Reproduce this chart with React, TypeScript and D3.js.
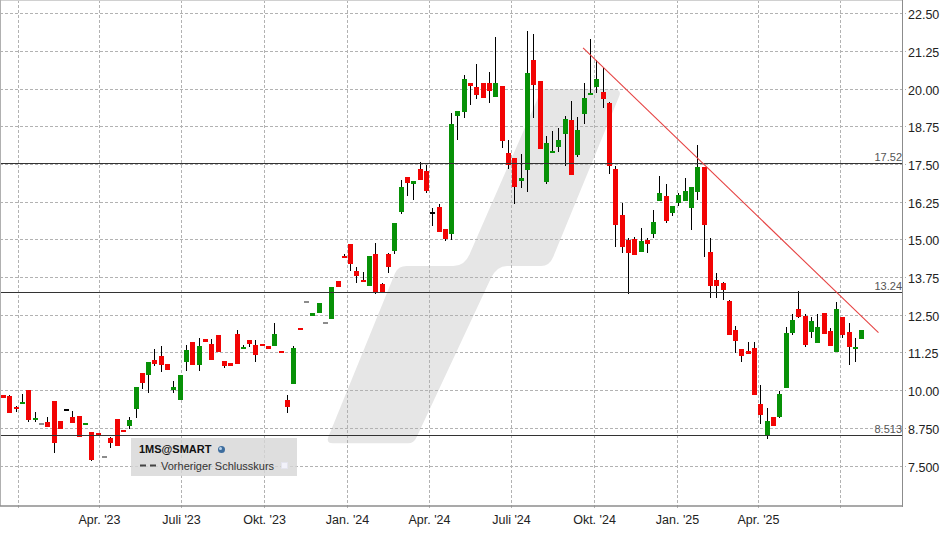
import React from "react";
import * as d3 from "d3";

const firstWeek = "2022-12-15";
const opens = [9.85,9.82,9.46,9.56,10.02,9.03,8.93,8.95,9.65,8.99,9.40,9.12,9.15,8.86,8.62,8.59,7.83,8.42,9.06,8.69,8.82,9.39,10.58,10.51,11.01,11.14,10.88,10.02,9.69,10.94,11.61,10.85,11.71,11.54,11.84,10.98,10.91,11.87,11.38,11.67,11.51,11.54,11.48,11.48,11.31,9.69,10.22,12.07,12.98,12.49,12.59,12.26,12.39,13.65,14.45,14.85,13.96,13.66,13.46,14.52,13.53,14.52,14.62,15.91,17.07,16.84,17.34,17.27,15.91,16.08,15.35,15.18,19.10,19.23,20.19,20.06,20.19,20.19,19.73,20.09,17.87,17.71,16.94,17.31,20.95,20.26,16.91,17.87,18.07,18.50,18.97,17.81,19.16,19.79,20.06,19.89,19.53,17.35,15.82,14.99,15.02,14.59,14.99,15.19,16.29,16.45,15.89,16.22,16.29,16.05,16.58,17.42,14.59,13.66,13.56,12.98,12.02,11.39,11.32,11.42,9.57,8.52,9.14,9.14,10.10,11.92,12.71,12.48,11.95,11.59,12.58,11.98,11.29,12.45,11.95,11.40,11.72];
const closes = [9.76,9.27,9.39,9.62,9.02,9.09,8.93,8.79,8.27,8.72,9.40,8.93,8.47,8.91,7.70,8.51,7.83,8.26,8.17,8.62,9.02,10.12,10.26,10.94,10.88,10.85,10.68,10.12,10.51,11.34,10.85,11.48,11.61,11.01,11.28,10.81,10.81,10.88,11.44,11.54,11.18,11.48,11.38,11.87,11.24,9.45,11.41,12.01,12.98,12.56,12.92,12.26,13.45,13.42,14.39,14.19,13.79,13.59,14.45,13.24,13.24,14.09,15.55,16.74,16.87,16.94,16.97,16.61,15.91,15.25,15.02,18.83,19.26,20.32,20.09,19.79,19.69,19.93,20.19,18.27,17.48,16.74,17.04,20.52,20.13,18.00,18.20,17.94,18.30,19.00,17.14,18.63,19.69,19.86,20.32,19.66,17.45,15.49,14.76,14.56,14.49,14.96,14.86,15.59,16.55,15.62,16.12,16.48,16.62,16.75,17.42,15.49,13.46,13.46,13.33,11.85,11.65,11.16,11.22,9.84,9.18,8.98,8.81,9.90,11.92,12.35,12.45,11.52,12.31,12.12,11.89,11.49,12.71,11.85,11.46,11.46,12.02];
const highs = [9.85,9.85,9.49,9.88,10.02,9.29,8.93,9.12,9.65,8.99,9.40,9.32,9.15,8.91,8.62,8.59,7.83,8.46,9.06,8.69,9.12,10.12,10.58,10.94,11.38,11.48,10.88,10.31,10.51,11.51,11.61,11.74,11.71,11.71,11.84,10.98,10.91,12.01,11.51,11.67,11.67,11.54,11.48,12.24,11.31,9.85,11.48,12.07,12.98,12.56,12.92,12.26,13.45,13.65,14.52,14.85,14.09,13.92,14.45,14.89,13.56,14.55,15.55,16.97,17.07,16.94,17.57,17.47,16.05,16.18,15.35,19.20,19.26,20.46,20.19,20.82,20.19,20.56,21.72,20.09,18.30,17.71,17.84,21.92,21.82,20.26,18.43,18.60,18.70,19.10,19.59,19.06,20.19,21.65,20.95,20.69,19.56,17.45,16.22,15.06,15.09,15.39,15.06,15.99,17.12,16.85,16.12,16.55,17.05,16.75,18.15,17.42,15.06,13.89,13.59,13.01,12.15,11.39,11.62,11.62,10.20,9.41,9.14,10.00,12.12,12.55,13.31,12.55,12.45,12.55,12.58,12.08,12.94,12.45,12.25,11.75,12.02];
const lows = [9.76,9.27,9.30,9.56,8.97,8.97,8.93,8.79,7.94,8.72,9.40,8.93,8.47,8.86,7.66,8.51,7.83,8.09,8.17,8.62,8.72,9.09,10.05,9.92,10.81,10.61,10.68,9.92,9.69,10.65,10.85,10.65,11.61,11.01,11.28,10.75,10.81,10.88,11.38,11.44,10.94,11.48,11.38,11.48,11.24,9.25,10.22,12.01,12.98,12.49,12.59,12.26,12.36,13.42,14.39,13.96,13.56,13.59,13.46,13.20,13.24,13.89,14.52,15.85,16.44,16.31,16.97,16.54,15.45,15.25,14.95,15.00,18.30,19.03,19.46,19.66,19.69,19.53,19.73,18.04,17.34,16.18,16.71,16.58,19.03,18.00,16.84,17.87,17.90,17.44,17.14,17.74,18.83,19.79,19.86,19.36,17.17,14.76,14.56,13.20,14.49,14.59,14.56,15.06,16.29,15.55,15.79,16.12,16.29,15.32,16.32,14.43,13.06,13.06,12.99,11.85,11.26,10.96,11.22,9.84,8.88,8.38,8.81,9.08,10.10,11.85,12.41,11.46,11.75,11.59,11.89,11.49,11.29,11.75,10.86,10.96,11.72];

const grayDojis = [6, 16, 48, 51];
const blackDojis = [10, 68];

const yTickLabels = ["22.50","21.25","20.00","18.75","17.50","16.25","15.00","13.75","12.50","11.25","10.00","8.750","7.500"];
const xTickDates = ["2023-01-01","2023-04-01","2023-07-01","2023-10-01","2024-01-01","2024-04-01","2024-07-01","2024-10-01","2025-01-01","2025-04-01","2025-07-01"];
const xTickLabels = ["","Apr. '23","Juli '23","Okt. '23","Jan. '24","Apr. '24","Juli '24","Okt. '24","Jan. '25","Apr. '25",""];
const levelValues = [17.52, 13.24, 8.513];
const levelLabels = ["17.52", "13.24", "8.513"];
const trendWeeks = [91.9, 138.7];
const trendPrices = [21.37, 11.92];

const FONT = "'Liberation Sans', Arial, sans-serif";
const RED = "#f20404";
const GREEN = "#079107";
const W = 948, H = 534, PLOT_R = 902, PLOT_B = 506;

const y = d3.scaleLinear().domain([7.5, 22.5]).range([466, 13.7]);
const x = d3.scaleUtc()
  .domain([new Date("2022-12-11T00:00:00Z"), new Date("2025-09-07T00:00:00Z")])
  .range([-0.6, 902]);
const weekDate = (i: number) =>
  new Date(new Date(firstWeek + "T00:00:00Z").getTime() + i * 7 * 864e5);
const crisp = (v: number) => Math.floor(v) + 0.5;

const logoPath =
  "M328.3 437 L395 273.3 Q398 266 406.7 266 L453.3 266 Q465 266 470 253.3 L541.7 89.3 L613 89.3 Q622 89.3 619.3 96 L553.3 256.7 Q549.5 266 541 266 L507 266 Q497 266 491 278 L416.7 437 Q414 443.3 408 443.3 L333 443.3 Q326 443.3 328.3 437 Z";

export default function App() {
  const trendLine = d3.line<number>()
    .x((w) => x(weekDate(w)))
    .y((_, i) => y(trendPrices[i]))(trendWeeks) as string;

  return (
    <svg width={W} height={H} style={{ position: "absolute", left: 0, top: 0, display: "block", background: "#fff" }}>
      <path d={logoPath} fill="#e6e6e6" />

      {yTickLabels.map((t) => {
        const yy = crisp(y(parseFloat(t)));
        return (
          <g key={t}>
            <line x1={0} x2={906} y1={yy} y2={yy} stroke="#b2b2b2" strokeDasharray="3 2" />
            <text x={908} y={yy + 5} fontFamily={FONT} fontSize={12.5} fill="#222">{t}</text>
          </g>
        );
      })}
      {xTickDates.map((d, i) => {
        const xx = crisp(x(new Date(d + "T00:00:00Z")));
        return (
          <g key={d}>
            <line x1={xx} x2={xx} y1={0} y2={PLOT_B + 4} stroke="#b2b2b2" strokeDasharray="3 2" />
            {xTickLabels[i] && (
              <text x={xx} y={524} textAnchor="middle" fontFamily={FONT} fontSize={12.5} fill="#222">{xTickLabels[i]}</text>
            )}
          </g>
        );
      })}

      <rect x={131} y={438} width={166} height={38} fill="#d6d6d6" fillOpacity={0.8} />
      <text x={139} y={453} fontFamily={FONT} fontSize={11} fontWeight="bold" fill="#111">1MS@SMART</text>
      <circle cx={221.5} cy={449.5} r={3.5} fill="#3d6d9e" />
      <circle cx={220.5} cy={448.5} r={1.5} fill="#b9d3ea" />
      <line x1={140} x2={157} y1={465.5} y2={465.5} stroke="#444" strokeWidth={2} strokeDasharray="6 4" />
      <text x={161} y={470} fontFamily={FONT} fontSize={11} fill="#333">Vorheriger Schlusskurs</text>
      <rect x={281.5} y={462.5} width={6} height={6} fill="#f2f2fa" stroke="#e4e4ee" />

      {opens.map((o, i) => {
        const c = closes[i];
        const cx = Math.round(x(weekDate(i)));
        const top = Math.round(y(Math.max(o, c)));
        const bot = Math.round(y(Math.min(o, c)));
        const fill = blackDojis.includes(i) ? "#000" : grayDojis.includes(i) ? "#8c8c8c" : c >= o ? GREEN : RED;
        const bh = Math.max(2, bot - top);
        return (
          <g key={i} shapeRendering="crispEdges">
            <line x1={cx + 0.5} x2={cx + 0.5} y1={y(highs[i])} y2={y(lows[i])} stroke="#000" />
            <rect x={cx - 2} y={top} width={5} height={bh} fill={fill} />
          </g>
        );
      })}

      {levelValues.map((v, i) => {
        const yy = crisp(y(v));
        return (
          <g key={v}>
            <line x1={0} x2={PLOT_R} y1={yy} y2={yy} stroke="#333" />
            <text x={PLOT_R} y={yy - 3} textAnchor="end" fontFamily={FONT} fontSize={11} fill="#555">{levelLabels[i]}</text>
          </g>
        );
      })}

      <path d={trendLine} fill="none" stroke="#e64343" strokeWidth={1.1} />

      <line x1={0} x2={PLOT_R} y1={0.5} y2={0.5} stroke="#d0d0d0" />
      <line x1={0.5} x2={0.5} y1={0} y2={PLOT_B} stroke="#b0b0b0" strokeWidth={1} />
      <line x1={PLOT_R + 0.5} x2={PLOT_R + 0.5} y1={0} y2={PLOT_B + 1} stroke="#8c8c8c" />
      <line x1={0} x2={PLOT_R + 1} y1={PLOT_B} y2={PLOT_B} stroke="#8c8c8c" strokeWidth={1.5} />
    </svg>
  );
}
